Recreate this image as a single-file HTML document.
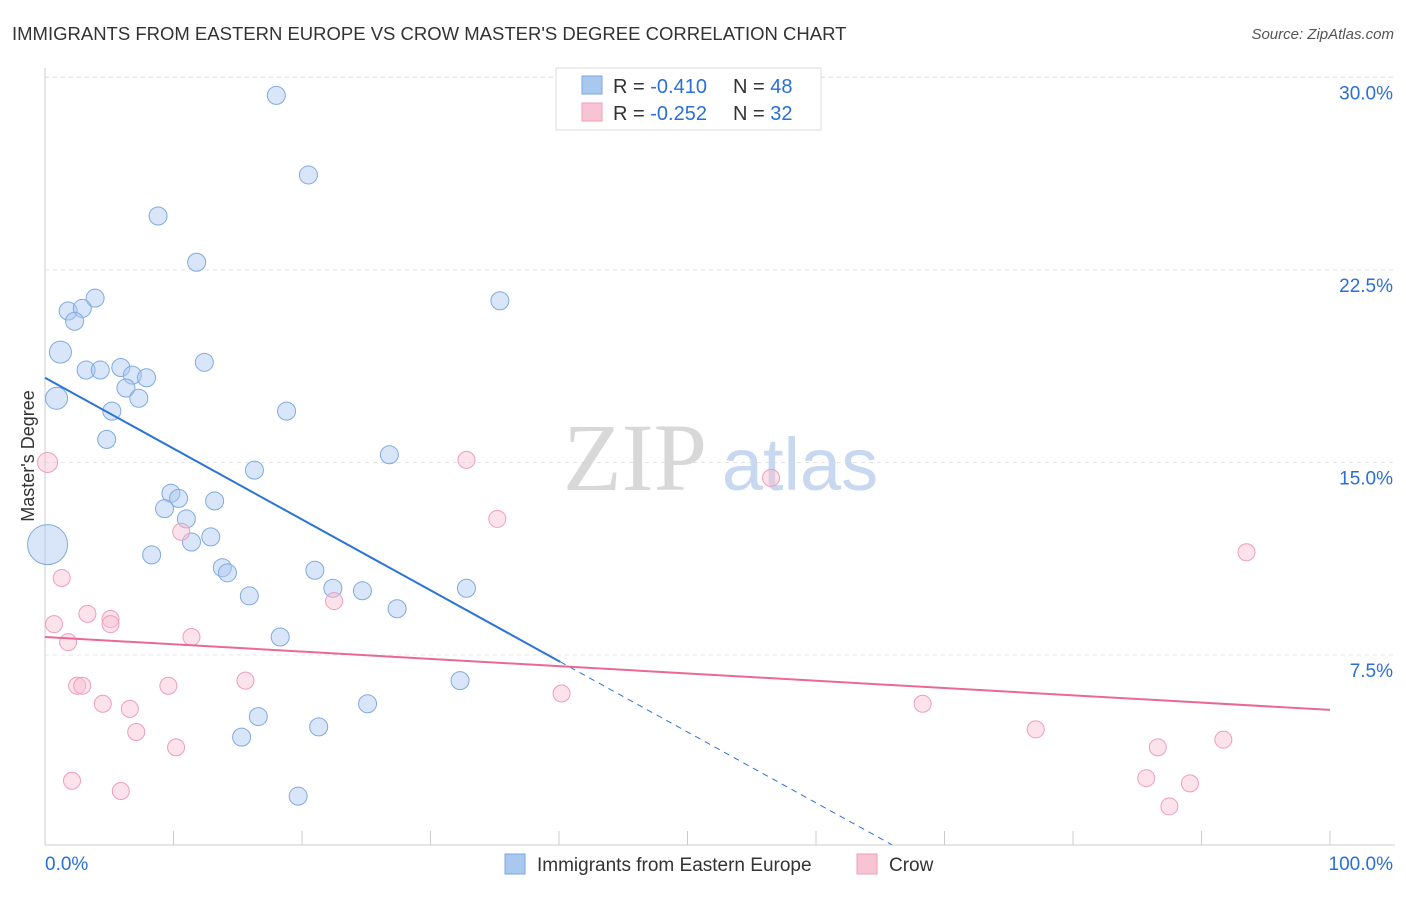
<!DOCTYPE html>
<html><head><meta charset="utf-8"><style>
body{margin:0;background:#fff;font-family:"Liberation Sans",sans-serif;}
svg text{font-family:"Liberation Sans",sans-serif;}
</style></head><body>
<svg id="chart" width="1406" height="892">
<text x="12" y="40" font-size="18.5" fill="#333">IMMIGRANTS FROM EASTERN EUROPE VS CROW MASTER'S DEGREE CORRELATION CHART</text>
<text x="1394" y="39" font-size="15" fill="#555" text-anchor="end" font-style="italic">Source: ZipAtlas.com</text>
<g id="grid"></g>
<g><text x="635" y="490" font-size="96" fill="#d8d8d8" font-family="Liberation Serif" text-anchor="middle" style="font-family:'Liberation Serif',serif">ZIP</text><text x="800" y="490" font-size="74" fill="#c8d8f0" text-anchor="middle">atlas</text></g>
<text transform="translate(34,456) rotate(-90)" font-size="18" fill="#333" text-anchor="middle">Master's Degree</text>
<g id="marks"></g>
<g>
<rect x="556" y="68" width="265" height="62" fill="#fff" stroke="#ddd"/>
<rect x="582" y="76" width="20" height="18" fill="#a9c8f0" stroke="#7aa6e0"/>
<text x="613" y="93" font-size="20" fill="#333">R = <tspan fill="#2a6fd6">-0.410</tspan></text>
<text x="733" y="93" font-size="20" fill="#333">N = <tspan fill="#2a6fd6">48</tspan></text>
<rect x="582" y="103" width="20" height="18" fill="#f8c4d4" stroke="#ee9fb8"/>
<text x="613" y="120" font-size="20" fill="#333">R = <tspan fill="#2a6fd6">-0.252</tspan></text>
<text x="733" y="120" font-size="20" fill="#333">N = <tspan fill="#2a6fd6">32</tspan></text>
</g>
<g>
<rect x="505" y="854" width="20" height="20" fill="#a9c8f0" stroke="#7aa6e0"/>
<text x="537" y="871" font-size="19" fill="#333">Immigrants from Eastern Europe</text>
<rect x="857" y="854" width="20" height="20" fill="#f8c4d4" stroke="#ee9fb8"/>
<text x="889" y="871" font-size="19" fill="#333">Crow</text>
</g>
</svg>
<script>
const yTicks=[7.5,15,22.5,30];
const yTickLabels=["7.5%","15.0%","22.5%","30.0%"];
const xTicks=[0,10,20,30,40,50,60,70,80,90,100];
const blueX=[18.0,20.5,8.8,11.8,3.9,1.8,2.9,2.3,35.4,1.2,12.4,3.2,4.3,5.9,6.8,7.9,6.3,0.9,7.3,5.2,18.8,4.8,26.8,16.3,9.8,10.4,13.2,9.3,11.0,0.2,12.9,11.4,8.3,13.8,14.2,21.0,22.4,24.7,32.8,15.9,27.4,18.3,32.3,25.1,16.6,21.3,15.3,19.7];
const blueY=[29.3,26.2,24.6,22.8,21.4,20.9,21.0,20.5,21.3,19.3,18.9,18.6,18.6,18.7,18.4,18.3,17.9,17.5,17.5,17.0,17.0,15.9,15.3,14.7,13.8,13.6,13.5,13.2,12.8,11.8,12.1,11.9,11.4,10.9,10.7,10.8,10.1,10.0,10.1,9.8,9.3,8.2,6.5,5.6,5.1,4.7,4.3,2.0];
const pinkX=[0.2,32.8,56.5,35.2,93.5,10.6,1.3,22.5,3.3,5.1,5.1,0.7,1.8,11.4,2.5,2.9,9.6,15.6,40.2,4.5,6.6,68.3,7.1,77.1,10.2,86.6,91.7,2.1,5.9,85.7,89.1,87.5];
const pinkY=[15.0,15.1,14.4,12.8,11.5,12.3,10.5,9.6,9.1,8.9,8.7,8.7,8.0,8.2,6.3,6.3,6.3,6.5,6.0,5.6,5.4,5.6,4.5,4.6,3.9,3.9,4.2,2.6,2.2,2.7,2.5,1.6];
const blueTrend=[18.3,-0.276];
const pinkTrend=[8.2,-0.0284];
const X=v=>45+v*12.85, Y=v=>847.5-v*25.67;
const NS="http://www.w3.org/2000/svg";
function mk(t,a,p){const e=document.createElementNS(NS,t);for(const k in a)e.setAttribute(k,a[k]);p.appendChild(e);return e;}
const g=document.getElementById('grid');
yTicks.forEach((t,i)=>{
 const l=mk('line',{x1:45,x2:1395,y1:Y(t),y2:Y(t),stroke:'#e4e4e4','stroke-dasharray':'4,4'},g);
 
 
 const tx=mk('text',{x:1393,y:Y(t)+22,'font-size':19,fill:'#2a6fd6','text-anchor':'end'},g);
 tx.textContent=yTickLabels[i];
 
 
});
mk('line',{x1:45,x2:1395,y1:77,y2:77,stroke:'#e4e4e4','stroke-dasharray':'4,4'},g);
mk('line',{x1:45,x2:45,y1:68,y2:845,stroke:'#ccc'},g);
mk('line',{x1:45,x2:1395,y1:845,y2:845,stroke:'#ccc'},g);
xTicks.forEach(t=>{
 const l=mk('line',{x1:X(t),x2:X(t),y1:831,y2:845,stroke:'#ccc'},g);
 
 
});
const xl=mk('text',{x:45,y:870,'font-size':19,fill:'#2a6fd6'},g);xl.textContent='0.0%';


const xr=mk('text',{x:1393,y:870,'font-size':19,fill:'#2a6fd6','text-anchor':'end'},g);xr.textContent='100.0%';


const m=document.getElementById('marks');
blueX.forEach((x,i)=>{
 const r=i==29?20:(i==17||i==9)?11:9;
 const c=mk('circle',{cx:X(x),cy:Y(blueY[i]),r:r,fill:'rgba(170,200,242,0.45)',stroke:'#7faae0','stroke-width':1},m);
 
 
});
pinkX.forEach((x,i)=>{
 const r=i==0?10:8.5;
 const c=mk('circle',{cx:X(x),cy:Y(pinkY[i]),r:r,fill:'rgba(248,190,210,0.45)',stroke:'#ee9fb8','stroke-width':1},m);
 
 
});
const bx1=40.1, bx2=(0-blueTrend[0])/blueTrend[1];
const b1=mk('line',{x1:X(0),y1:Y(blueTrend[0]),x2:X(bx1),y2:Y(blueTrend[0]+blueTrend[1]*bx1),stroke:'#2a74d8','stroke-width':2},m);


const b2=mk('line',{x1:X(bx1),y1:Y(blueTrend[0]+blueTrend[1]*bx1),x2:X(bx2-0.4),y2:Y(blueTrend[0]+blueTrend[1]*(bx2-0.4)),stroke:'#2a74d8','stroke-width':1,'stroke-dasharray':'6,5'},m);


const p1=mk('line',{x1:X(0),y1:Y(pinkTrend[0]),x2:X(100),y2:Y(pinkTrend[0]+pinkTrend[1]*100),stroke:'#e86a94','stroke-width':2},m);


</script>
</body></html>
